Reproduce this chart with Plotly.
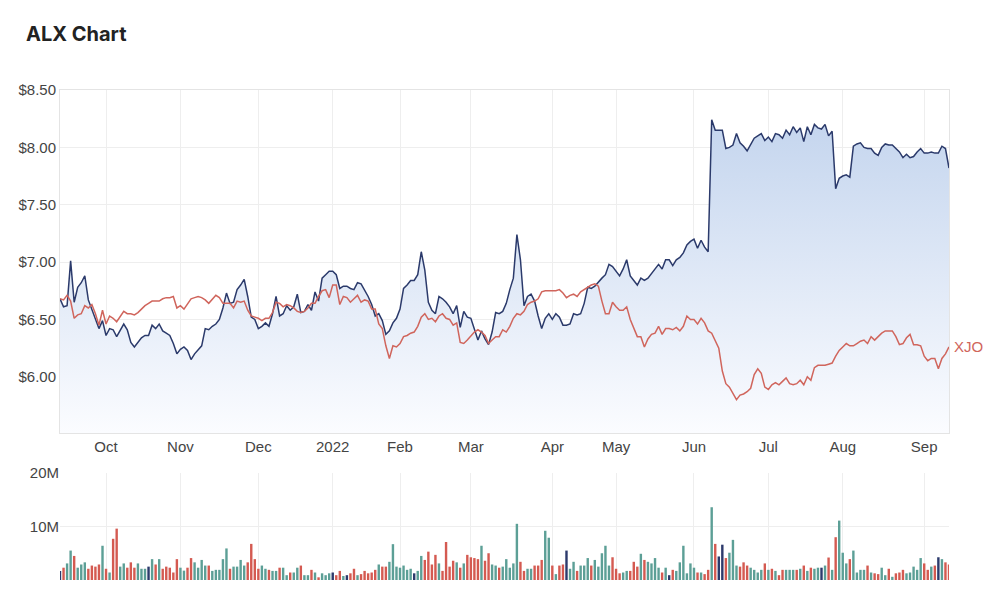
import sys
import pandas as pd
import plotly.graph_objects as go

# ---------------- data ----------------
holidays = ["2021-12-27", "2021-12-28", "2022-01-03", "2022-01-26",
            "2022-04-15", "2022-04-18", "2022-04-25", "2022-06-13"]
dates = [d.strftime("%Y-%m-%d") for d in pd.bdate_range("2021-09-14", "2022-09-12")
         if d.strftime("%Y-%m-%d") not in holidays]

alx = [
    6.68, 6.61, 6.62, 7.01, 6.65, 6.78, 6.82, 6.88, 6.67, 6.58,
    6.51, 6.42, 6.49, 6.36, 6.42, 6.41, 6.35, 6.40, 6.46, 6.41,
    6.30, 6.26, 6.30, 6.34, 6.36, 6.36, 6.45, 6.42, 6.46, 6.40,
    6.38, 6.36, 6.29, 6.20, 6.24, 6.26, 6.23, 6.15, 6.20, 6.24,
    6.27, 6.42, 6.41, 6.44, 6.46, 6.50, 6.60, 6.73, 6.64, 6.65,
    6.76, 6.80, 6.85, 6.70, 6.52, 6.50, 6.42, 6.44, 6.47, 6.44,
    6.55, 6.70, 6.53, 6.55, 6.62, 6.58, 6.61, 6.72, 6.56, 6.57,
    6.63, 6.58, 6.74, 6.66, 6.86, 6.89, 6.92, 6.92, 6.89, 6.77,
    6.79, 6.79, 6.77, 6.76, 6.82, 6.81, 6.76, 6.70, 6.63, 6.53,
    6.55, 6.49, 6.37, 6.40, 6.47, 6.51, 6.59, 6.77, 6.80, 6.84,
    6.84, 6.89, 7.09, 6.93, 6.65, 6.58, 6.55, 6.70, 6.68, 6.65,
    6.61, 6.55, 6.62, 6.43, 6.57, 6.52, 6.51, 6.42, 6.32, 6.40,
    6.33, 6.28, 6.39, 6.56, 6.55, 6.57, 6.64, 6.76, 6.86, 7.24,
    7.02, 6.62, 6.70, 6.72, 6.66, 6.53, 6.42, 6.51, 6.55, 6.50,
    6.55, 6.52, 6.45, 6.45, 6.46, 6.55, 6.54, 6.55, 6.64, 6.78,
    6.77, 6.79, 6.83, 6.86, 6.89, 6.98, 6.96, 6.92, 6.88, 6.94,
    7.02, 6.88, 6.84, 6.80, 6.86, 6.84, 6.86, 6.90, 6.93, 6.98,
    6.94, 7.02, 7.02,
    6.97, 7.02, 7.04, 7.08, 7.15, 7.18, 7.20, 7.12, 7.19, 7.13,
    7.09, 8.24, 8.15, 8.15, 8.15, 7.99, 8.00, 8.02, 8.12, 8.04,
    8.01, 7.97, 8.03, 8.08, 8.10, 8.12, 8.06, 8.09, 8.05, 8.12,
    8.11, 8.08, 8.15, 8.11, 8.18, 8.13, 8.17, 8.05, 8.18, 8.11,
    8.20, 8.17, 8.16, 8.20, 8.10, 8.14, 7.64, 7.73, 7.75, 7.76,
    7.74, 8.01, 8.03, 8.04, 8.00, 7.99, 7.99, 7.95, 7.93, 8.00,
    8.03, 8.02, 8.02, 7.99, 7.96, 7.91, 7.94, 7.91, 7.92, 7.96,
    7.99, 7.95, 7.95, 7.96, 7.95, 7.95, 8.01, 7.99, 7.82,
]

xjo = [
    6.68, 6.67, 6.71, 6.66, 6.51, 6.54, 6.55, 6.62, 6.60, 6.63,
    6.55, 6.45, 6.58, 6.46, 6.53, 6.51, 6.48, 6.52, 6.57, 6.55,
    6.55, 6.54, 6.56, 6.59, 6.62, 6.64, 6.66, 6.66, 6.66, 6.68,
    6.69, 6.69, 6.70, 6.60, 6.62, 6.59, 6.64, 6.68, 6.69, 6.70,
    6.69, 6.67, 6.64, 6.68, 6.71, 6.69, 6.64, 6.64, 6.64, 6.60,
    6.66, 6.65, 6.66, 6.58, 6.53, 6.52, 6.51, 6.49, 6.51, 6.51,
    6.56, 6.65, 6.64, 6.61, 6.63, 6.62, 6.60, 6.57, 6.56, 6.57,
    6.60, 6.64, 6.64, 6.70, 6.75, 6.76, 6.69, 6.80, 6.80, 6.63,
    6.70, 6.69, 6.65, 6.68, 6.71, 6.65, 6.67, 6.66, 6.59, 6.59,
    6.46, 6.42, 6.27, 6.16, 6.27, 6.26, 6.29, 6.35, 6.36, 6.38,
    6.39, 6.44, 6.52, 6.55, 6.50, 6.51, 6.48, 6.53, 6.55, 6.51,
    6.50, 6.45, 6.47, 6.30, 6.29, 6.32, 6.36, 6.39, 6.41, 6.39,
    6.36, 6.29, 6.32, 6.35, 6.35, 6.41, 6.39, 6.44, 6.51, 6.55,
    6.54, 6.57, 6.63, 6.65, 6.66, 6.68, 6.74, 6.75, 6.75, 6.75,
    6.75, 6.76, 6.73, 6.69, 6.71, 6.72, 6.70, 6.74, 6.76, 6.78,
    6.80, 6.81, 6.79, 6.66, 6.55, 6.55, 6.65, 6.61, 6.58, 6.58,
    6.61, 6.50, 6.42, 6.35, 6.35, 6.26, 6.33, 6.37, 6.38, 6.44,
    6.37, 6.42, 6.42,
    6.41, 6.43, 6.40, 6.44, 6.53, 6.50, 6.50, 6.46, 6.51, 6.47,
    6.40, 6.38, 6.31, 6.25, 6.05, 5.94, 5.91, 5.85, 5.80, 5.84,
    5.85, 5.87, 5.90, 6.02, 6.07, 6.03, 5.91, 5.89, 5.93, 5.95,
    5.93, 5.96, 5.99, 5.94, 5.93, 5.94, 5.97, 5.93, 6.00, 5.97,
    6.08, 6.10, 6.10, 6.10, 6.11, 6.12, 6.18, 6.23, 6.26, 6.29,
    6.27, 6.27, 6.29, 6.31, 6.32, 6.29, 6.35, 6.32, 6.35, 6.38,
    6.40, 6.40, 6.40, 6.35, 6.28, 6.29, 6.34, 6.37, 6.28, 6.28,
    6.27, 6.18, 6.14, 6.16, 6.16, 6.07, 6.16, 6.20, 6.26,
]

volume_m = [
    1.7, 2.3, 3.1, 5.5, 4.5, 2.3, 2.9, 3.3, 2.1, 2.7,
    2.5, 2.9, 6.4, 2.1, 1.4, 7.7, 9.6, 2.5, 3.1, 2.3,
    3.3, 2.3, 3.1, 2.1, 2.1, 2.5, 3.9, 2.9, 3.9, 2.1,
    2.5, 2.3, 1.4, 3.9, 2.3, 1.75, 2.3, 4.1, 3.3, 2.3,
    3.75, 2.7, 2.7, 1.7, 1.9, 1.9, 3.9, 5.9, 2.1, 2.5,
    2.5, 3.75, 2.7, 3.3, 6.75, 3.9, 2.1, 2.7, 2.1, 1.9,
    1.7, 1.7, 2.3, 2.3, 0.9, 1.4, 1.4, 2.3, 2.7, 0.9,
    0.9, 1.9, 1.4, 0.5, 1.25, 0.9, 1.25, 1.4, 0.9, 1.7,
    0.75, 0.9, 1.25, 2.1, 0.9, 1.1, 1.7, 1.25, 1.4, 1.9,
    2.9, 2.5, 2.5, 3.4, 6.7, 2.5, 2.3, 2.7, 1.9, 2.1,
    1.25, 1.7, 4.5, 3.75, 5.3, 2.9, 4.7, 3.1, 1.7, 7.1,
    2.5, 3.6, 3.3, 2.3, 3.1, 4.7, 4.25, 4.1, 3.9, 6.4,
    3.6, 5.0, 2.9, 2.7, 2.3, 2.5, 3.9, 2.3, 3.1, 10.5,
    3.4, 1.7, 2.1, 2.1, 2.7, 2.7, 3.75, 9.2, 7.9, 2.7,
    1.1, 2.7, 2.9, 5.5, 2.1, 3.4, 1.7, 2.7, 2.7, 4.1,
    2.7, 3.75, 2.5, 5.0, 6.4, 2.7, 4.25, 2.1, 1.25, 1.4,
    1.7, 1.7, 3.4, 2.5, 4.9, 3.75, 3.4, 3.1, 4.1, 2.3,
    1.4, 2.3, 0.9,
    1.9, 1.7, 3.3, 6.4, 1.25, 3.1, 2.3, 1.4, 1.4, 1.1,
    1.9, 13.6, 6.75, 4.4, 6.6, 4.1, 5.1, 7.5, 2.7, 2.5,
    3.3, 2.7, 2.3, 1.9, 1.4, 1.9, 3.1, 1.9, 2.1, 1.7,
    0.9, 1.9, 1.9, 1.9, 1.9, 1.9, 2.1, 2.7, 1.7, 2.3,
    2.1, 2.3, 2.3, 2.7, 4.2, 1.9, 8.0, 11.1, 5.1, 3.1,
    3.9, 5.5, 1.4, 1.9, 1.9, 2.7, 1.4, 1.25, 1.1, 2.3,
    0.9, 2.1, 0.6, 1.25, 1.4, 1.9, 1.25, 1.4, 2.5, 1.9,
    4.1, 3.1, 1.9, 2.5, 2.7, 4.25, 3.9, 3.3, 2.9,
]

# u = up day, d = down day, n = unchanged (one letter per trading day)
direction_rows = [
    "nduuduuudd", "ddududduud", "dduuunudud", "dddduudduu",
    "uuduuuuudu", "uuudddduud", "uuduuduudu", "ududuuundd",
    "undduddddd", "udduuuuuuu", "nuuddddudd", "ddududdddu",
    "dduuduuuuu", "dduuddduud", "uddnuuduuu", "duuuuudddu",
    "uddduduuuu", "dun",
    "duuuuuudud", "dudnnduuud", "dduuuududu", "dduuududud",
    "uunududuuu", "duuuududdu", "ududdduuuu", "uddudnudd",
]
direction = list("".join(direction_rows))

tick_idx = [i for i in range(1, len(dates)) if dates[i][5:7] != dates[i - 1][5:7]]
tick_vals = [dates[i] for i in tick_idx]
month_names = ["Jan", "Feb", "Mar", "Apr", "May", "Jun", "Jul", "Aug", "Sep", "Oct", "Nov", "Dec"]
tick_text = [dates[i][:4] if dates[i][5:7] == "01" else month_names[int(dates[i][5:7]) - 1]
             for i in tick_idx]

price_ticks = [6.0, 6.5, 7.0, 7.5, 8.0, 8.5]
price_labels = ["$6.00", "$6.50", "$7.00", "$7.50", "$8.00", "$8.50"]
vol_ticks = [10e6, 20e6]
vol_labels = ["10M", "20M"]

lens = dict(dates=len(dates), alx=len(alx), xjo=len(xjo), vol=len(volume_m), dir=len(direction))
print(lens, file=sys.stderr)
n = min(lens.values())
dates, alx, xjo, volume_m, direction = dates[:n], alx[:n], xjo[:n], volume_m[:n], direction[:n]

# ---------------- figure ----------------
dir_colors = {"u": "#5c9f96", "d": "#d45a51", "n": "#2c3a6c"}
bar_colors = [dir_colors[c] for c in direction]
volume = [v * 1e6 for v in volume_m]

fig = go.Figure()
fig.add_trace(go.Scatter(
    x=dates, y=alx, mode="lines", name="ALX",
    line=dict(color="#2b3a6b", width=1.5),
    fill="tozeroy",
    fillgradient=dict(type="vertical", start=5.51, stop=8.25,
                      colorscale=[[0, "rgba(251,252,255,1)"], [1, "rgba(196,213,238,1)"]]),
    xaxis="x", yaxis="y", showlegend=False,
))
fig.add_trace(go.Scatter(
    x=dates, y=xjo, mode="lines", name="XJO",
    line=dict(color="#d0655c", width=1.5),
    xaxis="x", yaxis="y", showlegend=False,
))
fig.add_trace(go.Bar(
    x=dates, y=volume, marker=dict(color=bar_colors, line=dict(width=0)),
    xaxis="x2", yaxis="y2", showlegend=False,
))

tick_font = dict(family="Liberation Sans, Arial, sans-serif", size=15, color="#444444")
grid = "#eeeeee"
border = "#e4e4e4"

fig.add_annotation(
    x=dates[-1], y=xjo[-1], xref="x", yref="y", text="XJO", showarrow=False,
    xanchor="left", yanchor="middle", xshift=3,
    font=dict(family="Liberation Sans, Arial, sans-serif", size=15, color="#d0655c"),
)

fig.update_layout(
    width=1000, height=601,
    paper_bgcolor="white", plot_bgcolor="white",
    margin=dict(l=60, r=51, t=90, b=21),
    title=dict(text="<b>ALX Chart</b>", xref="container", yref="container",
               x=0.026, y=0.944, xanchor="left", yanchor="middle",
               font=dict(family="Inter, Roboto, sans-serif", size=20, color="#222222")),
    bargap=0.32,
    xaxis=dict(type="category", anchor="y", domain=[0, 1], range=[0, n - 1],
               tickmode="array", tickvals=tick_vals, ticktext=tick_text,
               showgrid=True, gridcolor=grid, showline=True, linecolor=border, mirror=True,
               ticks="", tickfont=tick_font, zeroline=False),
    yaxis=dict(domain=[0.3, 1], range=[5.51, 8.5], tickmode="array",
               tickvals=price_ticks, ticktext=price_labels,
               showgrid=True, gridcolor=grid, showline=True, linecolor=border, mirror=True,
               ticks="", tickfont=tick_font, zeroline=False),
    xaxis2=dict(type="category", anchor="y2", matches="x", range=[0, n - 1],
                tickmode="array", tickvals=tick_vals, showticklabels=False,
                showgrid=True, gridcolor=grid, showline=False, ticks="", zeroline=False),
    yaxis2=dict(domain=[0, 0.2184], range=[0, 20e6], tickmode="array",
                tickvals=vol_ticks, ticktext=vol_labels,
                showgrid=True, gridcolor=grid, showline=False,
                ticks="", tickfont=tick_font, zeroline=False),
)

fig.write_html("out.html")
